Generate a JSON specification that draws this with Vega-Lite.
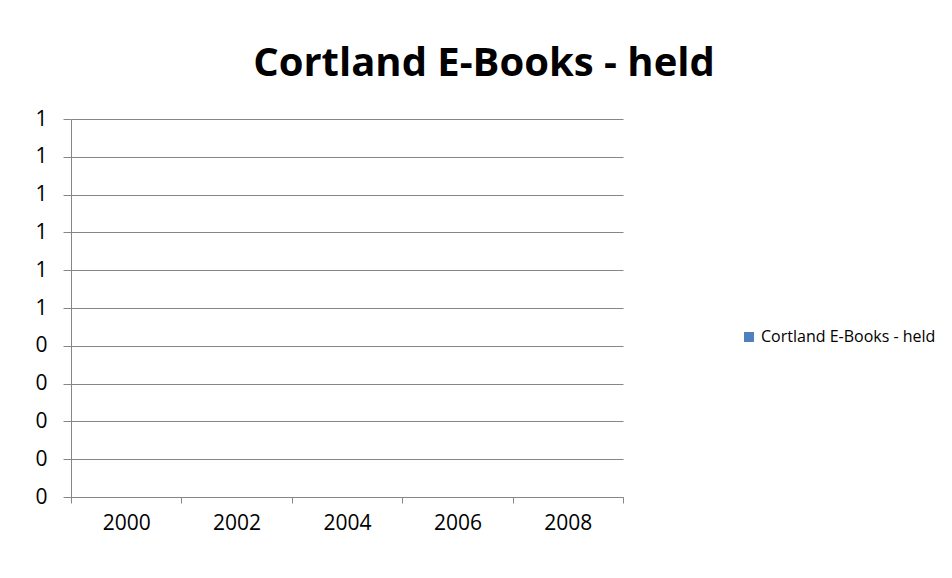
{
  "$schema": "https://vega.github.io/schema/vega-lite/v6.json",
  "autosize": {"type": "none"},
  "width": 552,
  "height": 378,
  "padding": {"left": 71, "top": 119, "right": 329, "bottom": 81},
  "background": "white",
  "title": {
    "text": "Cortland E-Books - held",
    "font": "Open Sans",
    "fontSize": 40,
    "fontWeight": "bold",
    "color": "#000000",
    "anchor": "middle",
    "dx": 137,
    "offset": 24
  },
  "data": {
    "values": [
      {"year": "2000", "held": 0, "series": "Cortland E-Books - held"},
      {"year": "2002", "held": 0, "series": "Cortland E-Books - held"},
      {"year": "2004", "held": 0, "series": "Cortland E-Books - held"},
      {"year": "2006", "held": 0, "series": "Cortland E-Books - held"},
      {"year": "2008", "held": 0, "series": "Cortland E-Books - held"}
    ]
  },
  "mark": {"type": "bar"},
  "encoding": {
    "x": {
      "field": "year",
      "type": "ordinal",
      "scale": {"paddingInner": 0, "paddingOuter": 0},
      "axis": {
        "title": null,
        "labelAngle": 0,
        "tickBand": "extent",
        "grid": false,
        "domainColor": "#868686",
        "tickColor": "#868686",
        "tickSize": 6,
        "labelFont": "Open Sans",
        "labelFontSize": 21,
        "labelColor": "#000000",
        "labelPadding": 9
      }
    },
    "y": {
      "field": "held",
      "type": "quantitative",
      "scale": {"domain": [0, 1], "nice": false},
      "axis": {
        "title": null,
        "values": [0, 0.1, 0.2, 0.3, 0.4, 0.5, 0.6, 0.7, 0.8, 0.9, 1],
        "format": ".0f",
        "grid": true,
        "gridColor": "#868686",
        "gridOpacity": 1,
        "domainColor": "#868686",
        "tickColor": "#868686",
        "tickSize": 8,
        "labelFont": "Open Sans",
        "labelFontSize": 21,
        "labelColor": "#000000",
        "labelPadding": 16
      }
    },
    "color": {
      "field": "series",
      "type": "nominal",
      "scale": {"range": ["#4F81BD"]},
      "legend": {
        "title": null,
        "orient": "none",
        "legendX": 670,
        "legendY": 210,
        "symbolType": "square",
        "symbolSize": 100,
        "symbolStrokeWidth": 0,
        "labelFont": "Open Sans",
        "labelFontSize": 16,
        "labelLimit": 0,
        "labelColor": "#000000",
        "labelOffset": 4
      }
    }
  },
  "config": {
    "view": {"stroke": null}
  }
}
